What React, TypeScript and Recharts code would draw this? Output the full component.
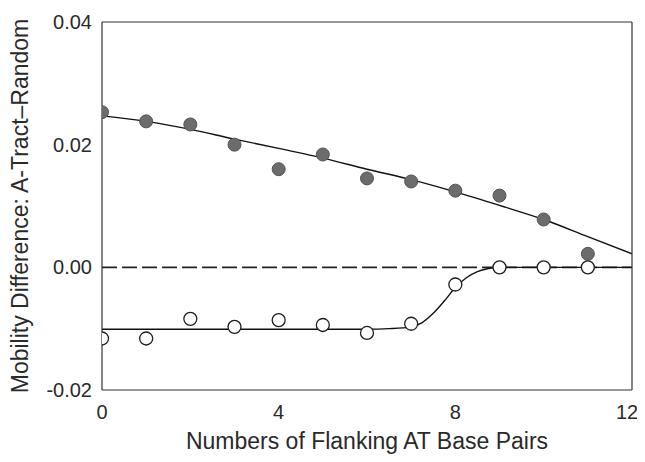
import React from "react";
import {
  ComposedChart,
  XAxis,
  YAxis,
  Line,
  Scatter,
  ReferenceLine,
} from "recharts";

// Measured points
const flankingPairs = [0, 1, 2, 3, 4, 5, 6, 7, 8, 9, 10, 11];
const filledValues = [0.0253, 0.0238, 0.0233, 0.0200, 0.0160, 0.0184, 0.0145, 0.0140, 0.0125, 0.0117, 0.0078, 0.0022];
const openValues = [-0.0116, -0.0116, -0.0084, -0.0097, -0.0086, -0.0094, -0.0107, -0.0092, -0.0028, 0.0, 0.0, 0.0];

// Fitted curves
const filledFitX = [0, 1, 2, 3, 4, 5, 6, 7, 8, 9, 10, 11, 12];
const filledFitY = [0.0247, 0.0238, 0.0225, 0.0209, 0.0194, 0.0178, 0.0160, 0.0143, 0.0123, 0.0101, 0.0078, 0.0050, 0.0022];
const openFitX = [0, 2, 4, 6, 6.5, 7, 7.25, 7.5, 7.75, 8, 8.25, 8.5, 8.75, 9, 10, 11, 12];
const openFitY = [-0.0101, -0.0101, -0.0101, -0.0101, -0.0100, -0.0097, -0.0090, -0.0075, -0.0055, -0.0033, -0.0017, -0.0007, -0.0002, 0.0, 0.0, 0.0, 0.0];

const xTicks = [0, 4, 8, 12];
const yTicks = [-0.02, 0.0, 0.02, 0.04];
const xInnerTicks = [4, 8];
const yInnerTicks = [0.0, 0.02];

const filledPts = flankingPairs.map((x, i) => ({ x, y: filledValues[i] }));
const openPts = flankingPairs.map((x, i) => ({ x, y: openValues[i] }));
const filledFit = filledFitX.map((x, i) => ({ x, y: filledFitY[i] }));
const openFit = openFitX.map((x, i) => ({ x, y: openFitY[i] }));

const FONT = "'Liberation Sans', Arial, sans-serif";
const tickStyle = { fontSize: 20, fill: "#2a2a2a", fontFamily: FONT };
const labelStyle = { fontSize: 23, fill: "#2a2a2a", fontFamily: FONT };

const FilledDot = (p: any) => (
  <circle cx={p.cx} cy={p.cy} r={6.5} fill="#6c6c6c" stroke="#545454" strokeWidth={1} />
);
const OpenDot = (p: any) => (
  <circle cx={p.cx} cy={p.cy} r={6.5} fill="#ffffff" stroke="#1e1e1e" strokeWidth={1.3} />
);

export default function App() {
  return (
    <div style={{ width: 629, height: 446 }}>
      <style>{`.recharts-surface { overflow: visible; } body { overflow: hidden; }`}</style>
      <ComposedChart
        width={629}
        height={446}
        margin={{ top: 14, right: 5, left: 0, bottom: 0 }}
      >
        <XAxis
          dataKey="x"
          type="number"
          domain={[0, 12]}
          ticks={xTicks}
          allowDataOverflow
          height={64}
          tickSize={0}
          tickMargin={15}
          tickLine={false}
          axisLine={{ stroke: "#333", strokeWidth: 1.2 }}
          tick={tickStyle}
          label={{
            value: "Numbers of Flanking AT Base Pairs",
            position: "insideBottom",
            offset: 5,
            style: { ...labelStyle, textAnchor: "middle" },
          }}
        />
        <XAxis
          xAxisId="bm"
          dataKey="x"
          type="number"
          domain={[0, 12]}
          ticks={xInnerTicks}
          allowDataOverflow
          orientation="bottom"
          mirror
          tickSize={8}
          tick={false}
          axisLine={false}
          tickLine={{ stroke: "#333" }}
        />
        <XAxis
          xAxisId="top"
          dataKey="x"
          type="number"
          domain={[0, 12]}
          ticks={xInnerTicks}
          allowDataOverflow
          orientation="top"
          mirror
          tickSize={8}
          tick={false}
          axisLine={{ stroke: "#333", strokeWidth: 1.2 }}
          tickLine={{ stroke: "#333" }}
        />
        <YAxis
          dataKey="y"
          type="number"
          domain={[-0.02, 0.04]}
          ticks={yTicks}
          allowDataOverflow
          width={94}
          tickSize={0}
          tickMargin={10}
          tickLine={false}
          axisLine={{ stroke: "#333", strokeWidth: 1.2 }}
          tick={tickStyle}
          tickFormatter={(v: number) => v.toFixed(2)}
          label={{
            value: "Mobility Difference: A-Tract\u2013Random",
            angle: -90,
            position: "insideLeft",
            offset: 12,
            style: { ...labelStyle, textAnchor: "middle" },
          }}
        />
        <YAxis
          yAxisId="lm"
          dataKey="y"
          type="number"
          domain={[-0.02, 0.04]}
          ticks={yInnerTicks}
          allowDataOverflow
          orientation="left"
          mirror
          tickSize={8}
          tick={false}
          axisLine={false}
          tickLine={{ stroke: "#333" }}
        />
        <YAxis
          yAxisId="right"
          dataKey="y"
          type="number"
          domain={[-0.02, 0.04]}
          ticks={yInnerTicks}
          allowDataOverflow
          orientation="right"
          mirror
          tickSize={8}
          tick={false}
          axisLine={{ stroke: "#333", strokeWidth: 1.2 }}
          tickLine={{ stroke: "#333" }}
        />
        <ReferenceLine
          y={0}
          stroke="#222"
          strokeWidth={1.8}
          strokeDasharray="15 5"
        />
        <Line
          data={filledFit}
          dataKey="y"
          type="monotone"
          stroke="#111"
          strokeWidth={1.4}
          dot={false}
          activeDot={false}
          isAnimationActive={false}
        />
        <Line
          data={openFit}
          dataKey="y"
          type="monotone"
          stroke="#111"
          strokeWidth={1.4}
          dot={false}
          activeDot={false}
          isAnimationActive={false}
        />
        <Scatter data={filledPts} dataKey="y" shape={FilledDot} isAnimationActive={false} />
        <Scatter data={openPts} dataKey="y" shape={OpenDot} isAnimationActive={false} />
      </ComposedChart>
    </div>
  );
}
